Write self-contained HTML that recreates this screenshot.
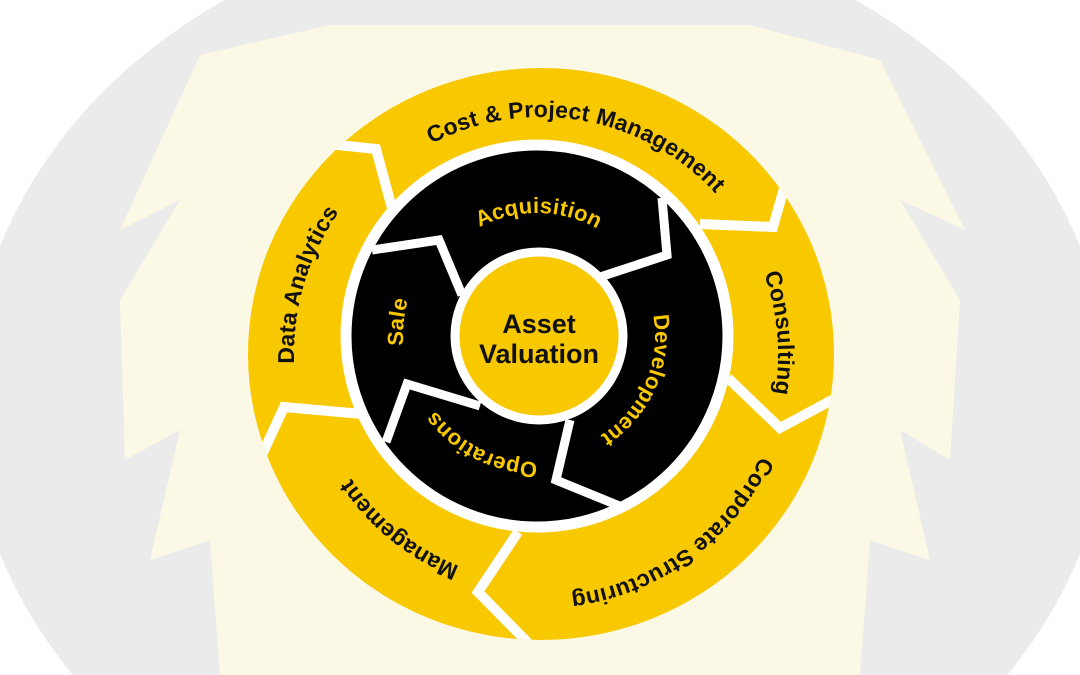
<!DOCTYPE html>
<html><head><meta charset="utf-8"><style>
html,body{margin:0;padding:0;width:1080px;height:675px;overflow:hidden;background:#fff}
svg{display:block;overflow:hidden}
text{font-family:"Liberation Sans",Arial,sans-serif;font-weight:bold}
</style></head><body>
<svg width="1080" height="675" viewBox="0 0 1080 675" xmlns="http://www.w3.org/2000/svg">
<defs>
<clipPath id="oc"><ellipse cx="541" cy="354" rx="293" ry="286"/></clipPath>
<clipPath id="pg"><rect x="0" y="0" width="1080" height="675"/></clipPath>
<path id="r245" d="M0,245 A245,245 0 1 1 0,-245 A245,245 0 1 1 0,245"/>
<path id="r250" d="M0,250 A250,250 0 1 1 0,-250 A250,250 0 1 1 0,250"/>
<path id="r255" d="M0,255 A255,255 0 1 1 0,-255 A255,255 0 1 1 0,255"/>
<path id="r235" d="M0,235 A235,235 0 1 1 0,-235 A235,235 0 1 1 0,235"/>
<path id="r131" d="M0,131 A131,131 0 1 1 0,-131 A131,131 0 1 1 0,131"/>
<path id="r126" d="M0,126 A126,126 0 1 1 0,-126 A126,126 0 1 1 0,126"/>
<path id="r134" d="M0,134 A134,134 0 1 1 0,-134 A134,134 0 1 1 0,134"/>
<path id="r142" d="M0,142 A142,142 0 1 1 0,-142 A142,142 0 1 1 0,142"/>
</defs>
<g clip-path="url(#pg)">
<ellipse cx="540" cy="400" rx="570" ry="480" fill="#ebebeb"/>
<polygon fill="#fbf9e6" points="200,55 330,25 750,25 880,60 965,230 900,200 960,300 950,460 900,430 930,560 870,540 860,675 220,675 210,540 150,560 180,430 125,460 120,300 180,200 120,230"/>
</g>
<ellipse cx="541" cy="354" rx="293" ry="286" fill="#f8c800"/>
<g fill="none" stroke="#fff" stroke-width="10" stroke-linejoin="miter" clip-path="url(#oc)">
<polyline points="290,140 376,149 393,212"/>
<polyline points="795,150 773,227 700,224"/>
<polyline points="728,378 780,428 845,393"/>
<polyline points="518,532 478,592 535,650"/>
<polyline points="255,470 284,407 362,414"/>
</g>
<circle cx="537" cy="336" r="191" fill="#000" stroke="#fff" stroke-width="11"/>
<g fill="none" stroke="#fff" stroke-width="9">
<polyline points="372,250 439,240 462,295"/>
<polyline points="662,198 667,255 600,277"/>
<polyline points="622,507 556,480 570,420"/>
<polyline points="480,406 407,384 386,442"/>
</g>
<circle cx="539" cy="336" r="84" fill="#f8c800" stroke="#fff" stroke-width="9"/>
<text x="539" y="333" font-size="27" text-anchor="middle" fill="#111">Asset</text>
<text x="539" y="363" font-size="27" text-anchor="middle" fill="#111">Valuation</text>
<g font-size="23" fill="#111" letter-spacing="0.6">
<g transform="translate(541,354) rotate(10)"><text dominant-baseline="central"><textPath href="#r245" startOffset="50%" text-anchor="middle">Cost &amp; Project Management</textPath></text></g>
<g transform="translate(541,354) rotate(85)"><text dominant-baseline="central"><textPath href="#r245" startOffset="50%" text-anchor="middle">Consulting</textPath></text></g>
<g transform="translate(541,354) rotate(144)"><text dominant-baseline="central"><textPath href="#r250" startOffset="50%" text-anchor="middle">Corporate Structuring</textPath></text></g>
<g transform="translate(541,354) rotate(219)"><text dominant-baseline="central"><textPath href="#r235" startOffset="50%" text-anchor="middle">Management</textPath></text></g>
<g transform="translate(541,354) rotate(-73.5)"><text dominant-baseline="central"><textPath href="#r255" startOffset="50%" text-anchor="middle">Data Analytics</textPath></text></g>
</g>
<g font-size="22" fill="#f8c800" letter-spacing="1">
<g transform="translate(537,336) rotate(1)"><text dominant-baseline="central"><textPath href="#r131" startOffset="50%" text-anchor="middle">Acquisition</textPath></text></g>
<g transform="translate(537,336) rotate(114)"><text dominant-baseline="central"><textPath href="#r126" startOffset="50%" text-anchor="middle">Development</textPath></text></g>
<g transform="translate(537,336) rotate(207)"><text dominant-baseline="central"><textPath href="#r134" startOffset="50%" text-anchor="middle">Operations</textPath></text></g>
<g transform="translate(537,336) rotate(276)"><text dominant-baseline="central"><textPath href="#r142" startOffset="50%" text-anchor="middle">Sale</textPath></text></g>
</g>
</svg>
</body></html>
